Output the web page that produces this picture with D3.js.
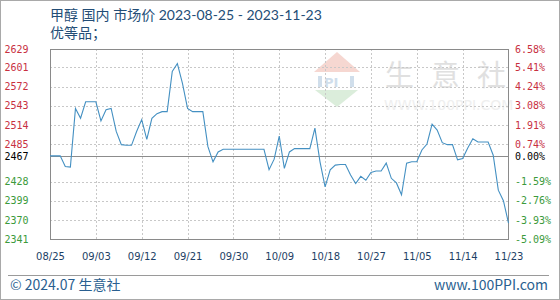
<!DOCTYPE html>
<html><head><meta charset="utf-8">
<script src="https://cdn.jsdelivr.net/npm/d3@7"></script>
<style>body{margin:0;background:#fff}svg{display:block}</style>
</head><body>
<svg id="chart" width="560" height="300"></svg>
<script>
const titleText = "甲醇 国内 市场价 2023-08-25 - 2023-11-23";
const subTitleText = "优等品；";
const footerLeft = "© 2024.07 生意社";
const footerRight = "www.100PPI.com";
const watermarkChars = ["生","意","社"];
const watermarkUrl = "WWW.100PPI.COM";

const dates = [
 "2023-08-25","2023-08-26","2023-08-27","2023-08-28","2023-08-29","2023-08-30","2023-08-31",
 "2023-09-01","2023-09-02","2023-09-03","2023-09-04","2023-09-05","2023-09-06","2023-09-07","2023-09-08","2023-09-09","2023-09-10",
 "2023-09-11","2023-09-12","2023-09-13","2023-09-14","2023-09-15","2023-09-16","2023-09-17","2023-09-18","2023-09-19","2023-09-20",
 "2023-09-21","2023-09-22","2023-09-23","2023-09-24","2023-09-25","2023-09-26","2023-09-27","2023-09-28","2023-09-29","2023-09-30",
 "2023-10-01","2023-10-02","2023-10-03","2023-10-04","2023-10-05","2023-10-06","2023-10-07","2023-10-08","2023-10-09","2023-10-10",
 "2023-10-11","2023-10-12","2023-10-13","2023-10-14","2023-10-15","2023-10-16","2023-10-17","2023-10-18","2023-10-19","2023-10-20",
 "2023-10-21","2023-10-22","2023-10-23","2023-10-24","2023-10-25","2023-10-26","2023-10-27","2023-10-28","2023-10-29","2023-10-30",
 "2023-10-31","2023-11-01","2023-11-02","2023-11-03","2023-11-04","2023-11-05","2023-11-06","2023-11-07","2023-11-08","2023-11-09",
 "2023-11-10","2023-11-11","2023-11-12","2023-11-13","2023-11-14","2023-11-15","2023-11-16","2023-11-17","2023-11-18","2023-11-19",
 "2023-11-20","2023-11-21","2023-11-22","2023-11-23"
];
const prices = [
 2467,2467,2467,2451,2450,2539,2524,2549,2549,2549,
 2520,2537,2539,2504,2484,2483,2483,2504,2522,2492,
 2524,2531,2534,2534,2595,2607,2577,2539,2534,2534,
 2534,2481,2458,2473,2477,2477,2477,2477,2477,2477,
 2477,2477,2477,2446,2462,2497,2448,2473,2478,2478,
 2478,2478,2509,2458,2420,2446,2453,2454,2454,2438,
 2425,2436,2430,2442,2444,2444,2456,2433,2426,2408,
 2456,2458,2458,2476,2485,2515,2506,2487,2484,2484,
 2461,2463,2479,2493,2488,2488,2488,2468,2415,2399,
 2365
];

const xTickDates = ["2023-08-25","2023-09-03","2023-09-12","2023-09-21","2023-09-30","2023-10-09","2023-10-18","2023-10-27","2023-11-05","2023-11-14","2023-11-23"];
const xTickLabels = ["08/25","09/03","09/12","09/21","09/30","10/09","10/18","10/27","11/05","11/14","11/23"];
const yTickValues = [2341,2370,2399,2428,2485,2514,2543,2572,2601,2629];
const yTickLabels = ["2341","2370","2399","2428","2485","2514","2543","2572","2601","2629"];
const pctTickLabels = ["-5.09%","-3.93%","-2.76%","-1.59%","0.74%","1.91%","3.08%","4.24%","5.41%","6.58%"];
const baseValue = 2467;
const baseLabel = "2467";
const basePctLabel = "0.00%";

const parse = d3.timeParse("%Y-%m-%d");
const data = dates.map((d,i)=>({date:parse(d), value:prices[i]}));

const svg = d3.select("#chart");
const L = 50, R = 509, T = 49, B = 239;

const x = d3.scaleTime().domain([parse(dates[0]), parse(dates[dates.length-1])]).range([L, R - 0.5]);
const y = d3.scaleLinear().domain([2341, 2629]).range([B, T]);

const red = "#c8303f", green = "#3b9a3b", axisFont = "DejaVu Sans Mono, monospace";
const titleFont = "Lato, 'Noto Sans CJK SC', sans-serif";

// outer border
svg.append("rect").attr("x",0.5).attr("y",0.5).attr("width",559).attr("height",299)
  .attr("fill","none").attr("stroke","#a9a9a9");

// watermark
const wm = svg.append("g").attr("opacity",0.55);
wm.append("path").attr("d","M337,52 L314,72 L360,72 Z").attr("fill","#f0b7ac");
wm.append("rect").attr("x",318).attr("y",76).attr("width",4).attr("height",11).attr("fill","#aac4dc");
wm.append("text").attr("x",324).attr("y",87).attr("font-family","DejaVu Sans").attr("font-size",13)
  .attr("font-weight","bold").attr("fill","#aac4dc").text("PI");
wm.append("rect").attr("x",350).attr("y",76).attr("width",4).attr("height",11).attr("fill","#aac4dc");
wm.append("path").attr("d","M315,90 L358,90 L337,107 Z").attr("fill","#bfe0bf");
wm.selectAll("text.wmc").data(watermarkChars).join("text").attr("class","wmc")
  .attr("x",(d,i)=>385 + i*46).attr("y",86).attr("font-family","Noto Sans CJK SC").attr("font-size",29)
  .attr("fill","#c8c8c8").text(d=>d);
wm.append("text").attr("x",384).attr("y",110).attr("font-family","DejaVu Sans").attr("font-size",14)
  .attr("fill","#e2e2e2").text(watermarkUrl);

// gridlines
const grid = svg.append("g");
grid.selectAll("line.h").data(yTickValues.filter(v=>v!==2341 && v!==2629)).join("line")
  .attr("x1",L).attr("x2",R).attr("y1",d=>Math.round(y(d))+0.5).attr("y2",d=>Math.round(y(d))+0.5)
  .attr("stroke","#c8c8c8").attr("stroke-dasharray","2,2");
grid.selectAll("line.v").data(xTickDates.slice(1,-1)).join("line")
  .attr("y1",T).attr("y2",B).attr("x1",d=>Math.round(x(parse(d)))+0.5).attr("x2",d=>Math.round(x(parse(d)))+0.5)
  .attr("stroke","#c8c8c8").attr("stroke-dasharray","2,2");

// plot border
svg.append("rect").attr("x",L+0.5).attr("y",T+0.5).attr("width",R-L-1).attr("height",B-T)
  .attr("fill","none").attr("stroke","#8a8a8a");

// baseline
svg.append("line").attr("x1",L).attr("x2",R).attr("y1",Math.round(y(baseValue))+0.5).attr("y2",Math.round(y(baseValue))+0.5)
  .attr("stroke","#8c8c8c");

// line
svg.append("path").datum(data)
  .attr("d", d3.line().x(d=>x(d.date)).y(d=>y(d.value)))
  .attr("fill","none").attr("stroke","#4490c2").attr("stroke-width",1.1);

// left axis
const yAxisL = d3.axisLeft(y).tickValues(yTickValues.concat([baseValue])).tickSize(0).tickPadding(0)
  .tickFormat(d => d===baseValue ? baseLabel : yTickLabels[yTickValues.indexOf(d)]);
const gl = svg.append("g").attr("transform","translate(28.5,0)").call(yAxisL);
gl.select(".domain").remove();
gl.selectAll("text").attr("font-family",axisFont).attr("font-size",10)
  .attr("fill",d => d===baseValue ? "#000" : (d>baseValue ? red : green));

// right axis (percent)
const yAxisR = d3.axisRight(y).tickValues(yTickValues.concat([baseValue])).tickSize(0).tickPadding(0)
  .tickFormat(d => d===baseValue ? basePctLabel : pctTickLabels[yTickValues.indexOf(d)]);
const gr = svg.append("g").attr("transform","translate(515,0)").call(yAxisR);
gr.select(".domain").remove();
gr.selectAll("text").attr("font-family",axisFont).attr("font-size",10)
  .attr("fill",d => d===baseValue ? "#000" : (d>baseValue ? red : green));

// x axis
const xAxis = d3.axisBottom(x).tickValues(xTickDates.map(parse)).tickSize(0).tickPadding(14)
  .tickFormat((d,i)=>xTickLabels[i]);
const gx = svg.append("g").attr("transform",`translate(0,${B})`).call(xAxis);
gx.select(".domain").remove();
gx.selectAll("text").attr("font-family","DejaVu Sans, sans-serif").attr("font-size",10).attr("fill","#1d3f66");

// titles
svg.append("text").attr("x",50).attr("y",20).attr("font-family",titleFont).attr("font-size",14)
  .attr("fill","#234d76").text(titleText);
svg.append("text").attr("x",50).attr("y",38).attr("font-family",titleFont).attr("font-size",14)
  .attr("fill","#234d76").text(subTitleText);

// footer
svg.append("line").attr("x1",8).attr("x2",549).attr("y1",275.5).attr("y2",275.5).attr("stroke","#9a9a9a");
svg.append("text").attr("x",10).attr("y",290).attr("font-family","Noto Sans CJK SC").attr("font-size",14)
  .attr("fill","#2a5f90").text(footerLeft);
svg.append("text").attr("x",548).attr("y",290).attr("text-anchor","end").attr("font-family","Noto Sans CJK SC")
  .attr("font-size",14).attr("fill","#2a5f90").text(footerRight);
</script>
</body></html>
